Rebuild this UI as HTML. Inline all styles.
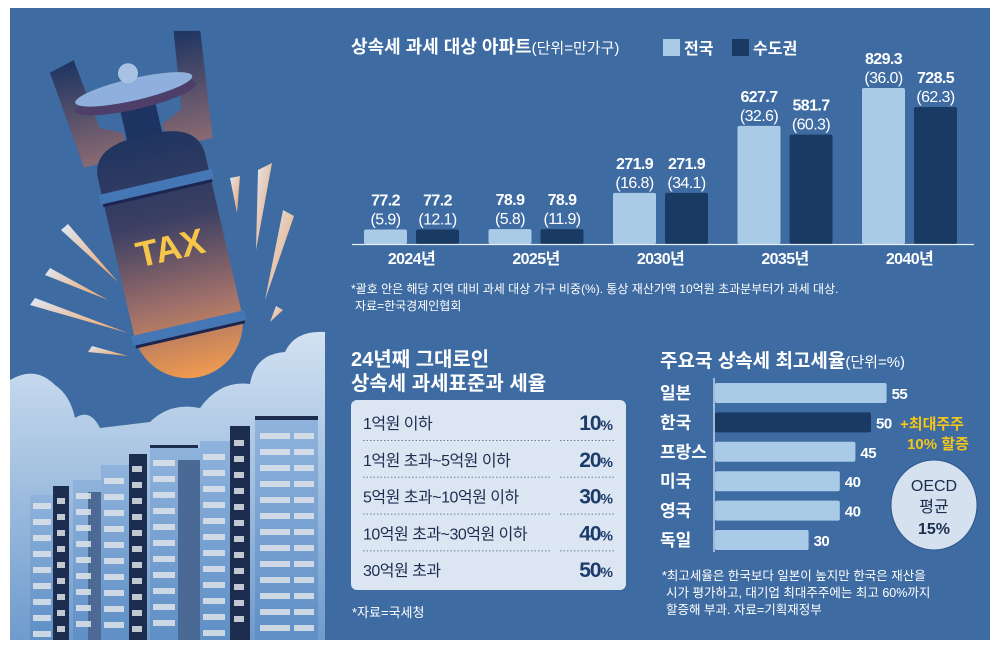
<!DOCTYPE html>
<html><head><meta charset="utf-8">
<style>
html,body{margin:0;padding:0;background:#fff;}
svg{display:block;font-family:"Liberation Sans","Noto Sans CJK KR",sans-serif;}
</style></head>
<body>
<svg id="root" width="1000" height="671" viewBox="0 0 1000 671">
<defs>
<linearGradient id="bombG" x1="0" y1="0" x2="0" y2="1">
<stop offset="0" stop-color="#1f3560"/><stop offset="0.35" stop-color="#3b3f63"/><stop offset="0.7" stop-color="#a0706a"/><stop offset="1" stop-color="#f09a4e"/></linearGradient>
<linearGradient id="finG" x1="0" y1="0" x2="0" y2="1">
<stop offset="0" stop-color="#1d3462"/><stop offset="1" stop-color="#8a6a72"/></linearGradient>
<linearGradient id="cloudG" x1="0" y1="0" x2="0" y2="1">
<stop offset="0" stop-color="#d2e2f2"/><stop offset="1" stop-color="#6f9bcc"/></linearGradient>
<linearGradient id="rayG" x1="0" y1="0" x2="1" y2="1">
<stop offset="0" stop-color="#dfe8f5"/><stop offset="1" stop-color="#f0a060"/></linearGradient>
<linearGradient id="bldG" x1="0" y1="0" x2="0" y2="1">
<stop offset="0" stop-color="#8fb3dc"/><stop offset="1" stop-color="#5f8fc6"/></linearGradient>
</defs>
<rect x="10" y="8" width="980" height="632" fill="#3e6ba2"/>

<g>
<path d="M10 380 Q35 365 55 385 Q70 395 75 418 Q90 408 100 428 L150 422 Q170 402 200 408 Q220 380 250 384 Q255 354 285 352 Q295 330 325 332 L325 640 L10 640 Z" fill="url(#cloudG)"/>
<g>
<rect x="30" y="495" width="25" height="145" fill="url(#bldG)"/>
<rect x="53" y="486" width="16" height="154" fill="#1c2d4f"/>
<rect x="73" y="480" width="28" height="160" fill="url(#bldG)"/>
<rect x="88" y="492" width="14" height="148" fill="#4c6a93"/>
<rect x="101" y="465" width="28" height="175" fill="url(#bldG)"/>
<rect x="129" y="454" width="18" height="186" fill="#1c2d4f"/>
<rect x="150" y="448" width="50" height="192" fill="url(#bldG)"/>
<rect x="178" y="460" width="22" height="180" fill="#4a6a95"/>
<rect x="200" y="441" width="30" height="199" fill="url(#bldG)"/>
<rect x="230" y="426" width="20" height="214" fill="#1c2d4f"/>
<rect x="255" y="420" width="63" height="220" fill="url(#bldG)"/>
<rect x="255" y="416" width="63" height="4" fill="#1c2d4f"/>
<rect x="150" y="445" width="48" height="3" fill="#1c2d4f"/>
</g>
<g id="windows" fill="#dfe4ea" opacity="0.85"></g>
<g fill="url(#rayG)">
<polygon points="61,230 68,224 118,282"/>
<polygon points="45,275 50,268 108,300"/>
<polygon points="30,305 35,298 128,333"/>
<polygon points="88,352 92,346 128,356"/>
<polygon points="230,178 240,176 237,213"/>
<polygon points="258,170 272,163 256,250"/>
<polygon points="283,210 294,216 265,300"/>
<polygon points="276,306 283,310 270,322"/>
</g>
<g transform="translate(172,255) rotate(-13)">
<path d="M-78 -205 L-52 -212 L-42 -140 L-20 -130 L-20 -105 L-66 -105 Z" fill="url(#finG)"/>
<path d="M78 -212 L52 -218 L42 -140 L20 -130 L20 -105 L66 -105 Z" fill="url(#finG)"/>
<rect x="-18" y="-170" width="36" height="70" fill="#1d3462"/>
<ellipse cx="0" cy="-162" rx="62" ry="12" fill="#4d3f6a"/>
<ellipse cx="0" cy="-170" rx="60" ry="11" fill="#8fb0dd"/>
<circle cx="-2" cy="-187" r="10" fill="#a8c2e4"/>
<path d="M-55 -70 L-55 -90 Q-55 -118 -20 -122 L20 -122 Q55 -118 55 -90 L55 70 A55 55 0 0 1 -55 70 Z" fill="url(#bombG)"/>
<rect x="-58" y="-75" width="116" height="10" fill="#4576b6"/>
<rect x="-56" y="-65" width="112" height="3" fill="#1c2550"/>
<rect x="-58" y="70" width="116" height="10" fill="#4576b6"/>
<rect x="-56" y="80" width="112" height="3" fill="#1c2550"/>
<text x="0" y="5" text-anchor="middle" font-size="36" font-weight="bold" fill="#f5c64a">TAX</text>
</g>
</g>

<g>
<text x="351" y="53" font-size="18" font-weight="bold" fill="#fff">상속세 과세 대상 아파트<tspan font-size="15" font-weight="normal">(단위=만가구)</tspan></text>
<rect x="663" y="39" width="17" height="17" fill="#a9cbe8"/>
<text x="684" y="54" font-size="16" font-weight="bold" fill="#fff">전국</text>
<rect x="732" y="39" width="17" height="17" fill="#193a63"/>
<text x="753" y="54" font-size="16" font-weight="bold" fill="#fff">수도권</text>
<g id="topBars"></g>
<line x1="352" y1="244.5" x2="974" y2="244.5" stroke="#e6eef7" stroke-width="1.2"/>
<text x="351" y="293" font-size="12" fill="#fff">*괄호 안은 해당 지역 대비 과세 대상 가구 비중(%). 통상 재산가액 10억원 초과분부터가 과세 대상.</text>
<text x="355" y="310" font-size="12" fill="#fff">자료=한국경제인협회</text>
</g>

<g>
<text x="351" y="366" font-size="20" font-weight="bold" fill="#fff">24년째 그대로인</text>
<text x="351" y="390" font-size="20" font-weight="bold" fill="#fff">상속세 과세표준과 세율</text>
<rect x="351" y="400" width="275" height="190" rx="6" fill="#dce6f2"/>
<g id="tableRows"></g>
<text x="352" y="617" font-size="13" fill="#fff">*자료=국세청</text>
</g>

<g>
<text x="660" y="367" font-size="19" font-weight="bold" fill="#fff">주요국 상속세 최고세율<tspan font-size="15" font-weight="normal">(단위=%)</tspan></text>
<line x1="714" y1="378" x2="714" y2="552" stroke="#e6eef7" stroke-width="1.2"/>
<g id="rateBars"></g>
<text x="932" y="429" text-anchor="middle" font-size="15" font-weight="bold" fill="#f5c518">+최대주주</text>
<text x="938" y="449" text-anchor="middle" font-size="15" font-weight="bold" fill="#f5c518">10% 할증</text>
<ellipse cx="934" cy="505" rx="43" ry="45" fill="#d5e1ef" stroke="#2c5690" stroke-width="1"/>
<text x="934" y="491" text-anchor="middle" font-size="16" fill="#1c2d4f">OECD</text>
<text x="934" y="512" text-anchor="middle" font-size="16" fill="#1c2d4f">평균</text>
<text x="934" y="534" text-anchor="middle" font-size="16" font-weight="bold" fill="#1c2d4f">15%</text>
<text x="662" y="580" font-size="12.5" fill="#fff">*최고세율은 한국보다 일본이 높지만 한국은 재산을</text>
<text x="666" y="597" font-size="12.5" fill="#fff">시가 평가하고, 대기업 최대주주에는 최고 60%까지</text>
<text x="666" y="614" font-size="12.5" fill="#fff">할증해 부과. 자료=기획재정부</text>
</g>
</svg>
<script>
const years = ['2024년','2025년','2030년','2035년','2040년'];
const national = [77.2, 78.9, 271.9, 627.7, 829.3];
const capital = [77.2, 78.9, 271.9, 581.7, 728.5];
const nationalPct = ['5.9','5.8','16.8','32.6','36.0'];
const capitalPct = ['12.1','11.9','34.1','60.3','62.3'];

const brackets = ['1억원 이하','1억원 초과~5억원 이하','5억원 초과~10억원 이하','10억원 초과~30억원 이하','30억원 초과'];
const bracketRates = [10, 20, 30, 40, 50];

const countries = ['일본','한국','프랑스','미국','영국','독일'];
const topRates = [55, 50, 45, 40, 40, 30];

const NS='http://www.w3.org/2000/svg';
function mk(tag, attrs, parent, txt){const e=document.createElementNS(NS,tag);for(const k in attrs)e.setAttribute(k,attrs[k]);if(txt!==undefined)e.textContent=txt;parent.appendChild(e);return e;}

const baseY=244, maxV=829.3, maxH=156;
const yScale=v=>baseY - v/maxV*maxH;
const xGroup=i=>364 + i*124.5;
const tb=document.getElementById('topBars');
years.forEach((y,i)=>{
  const x0=xGroup(i), bw=43;
  const sets=[[national[i],nationalPct[i],'#a9cbe8',x0,'national'],[capital[i],capitalPct[i],'#193a63',x0+52,'capital']];
  sets.forEach(s=>{
    const top=yScale(s[0]);
    const r=mk('rect',{x:s[3],y:top,width:bw,height:baseY-top,fill:s[2],rx:2},tb);
    
    
    const t=mk('text',{x:s[3]+bw/2,y:top-24,'text-anchor':'middle','font-size':16,'font-weight':'bold',fill:'#fff','letter-spacing':'-0.6'},tb,s[0].toFixed(1));
    
    
    const p=mk('text',{x:s[3]+bw/2,y:top-5,'text-anchor':'middle','font-size':16,fill:'#fff','letter-spacing':'-0.6'},tb,'('+s[1]+')');
    
    
  });
  const yl=mk('text',{x:x0+47.5,y:264,'text-anchor':'middle','font-size':16,'font-weight':'bold',fill:'#fff','letter-spacing':'-0.6'},tb,y);
  
  
});

const tr=document.getElementById('tableRows');
brackets.forEach((b,i)=>{
  const cy=422 + i*36.8;
  const t=mk('text',{x:363,y:cy+7,'font-size':16,fill:'#1c2d4f','letter-spacing':'-0.5'},tr,b);
  
  
  const r=mk('text',{x:612,y:cy+8,'text-anchor':'end','font-size':21,'font-weight':'bold',fill:'#1c3b6b','letter-spacing':'-1'},tr);
  
  
  mk('tspan',{},r,String(bracketRates[i]));
  mk('tspan',{'font-size':14},r,'%');
  if(i<brackets.length-1){
    const l=mk('line',{x1:363,y1:cy+18.5,x2:552,y2:cy+18.5,stroke:'#6a7f9c','stroke-dasharray':'1.5 2'},tr);
    
    
    const l2=mk('line',{x1:560,y1:cy+18.5,x2:616,y2:cy+18.5,stroke:'#6a7f9c','stroke-dasharray':'1.5 2'},tr);
    
    
  }
});

const x0r=715, perUnit=3.12;
const xR=v=>x0r + v*perUnit;
const yRow=i=>383 + i*29.4;
const rb=document.getElementById('rateBars');
countries.forEach((c,i)=>{
  const y=yRow(i);
  const r=mk('rect',{x:x0r,y:y,width:xR(topRates[i])-x0r,height:20,fill:i===1?'#193a63':'#a9cbe8',rx:2},rb);
  
  
  const cl=mk('text',{x:660,y:y+16,'font-size':17,'font-weight':'bold',fill:'#fff'},rb,c);
  
  
  const v=mk('text',{x:xR(topRates[i])+5,y:y+16,'font-size':15,'font-weight':'bold',fill:'#fff','letter-spacing':'-0.5'},rb,String(topRates[i]));
  
  
});

const win=document.getElementById('windows');
const cols=[[33,18,495],[57,8,490],[76,15,485],[104,20,470],[132,10,458],[153,22,452],[203,22,446],[234,10,432],[260,30,425],[294,20,425]];
cols.forEach(c=>{for(let y=c[2]+8;y<632;y+=16){mk('rect',{x:c[0],y:y,width:c[1],height:6},win);}});
</script>
</body></html>
